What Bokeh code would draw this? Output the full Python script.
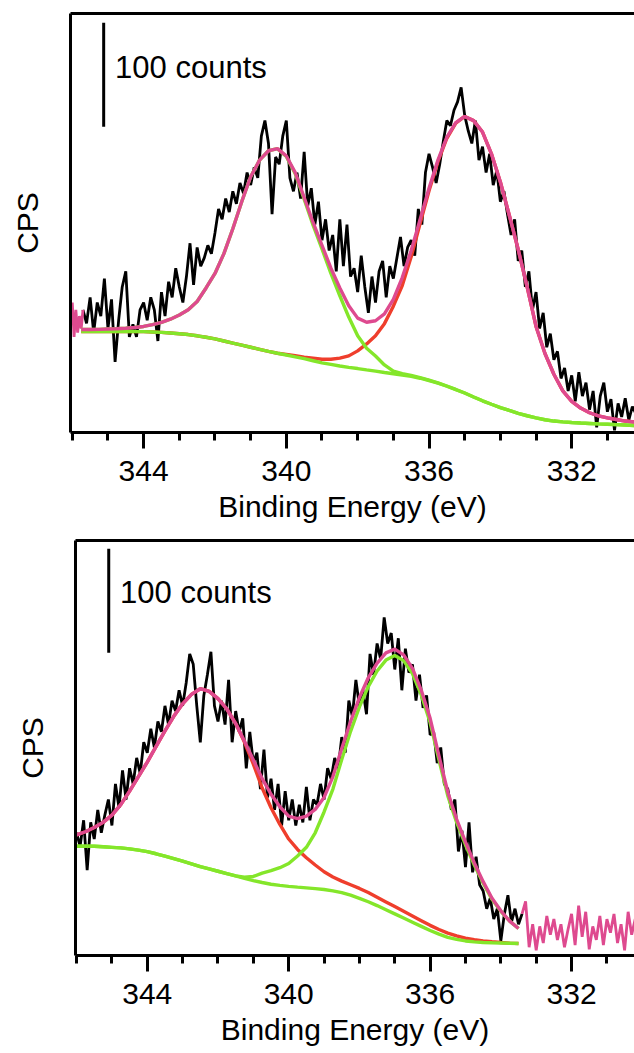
import numpy as np
from bokeh.plotting import figure
from bokeh.layouts import column, row
from bokeh.models import Range1d, LinearAxis, FixedTicker, Label, Spacer
from bokeh.embed import file_html
from bokeh.resources import INLINE

FONT = "Liberation Sans"
PINK = "#DE4A8F"
RED = "#EF3E2C"
GREEN = "#84E62A"

# ---------------- data: top panel ----------------
top_raw_start, top_raw_step = 345.7, 0.1
top_raw = [118, 105, 130, 96, 125, 112, 148, 100, 128, 68, 108, 140, 155, 92, 104, 92, 118, 125,
           108, 130, 118, 88, 135, 112, 145, 130, 158, 140, 125, 150, 182, 142, 178, 160, 168, 180,
           172, 192, 215, 205, 225, 212, 232, 220, 240, 230, 250, 238, 255, 245, 285, 300, 278, 210,
           265, 258, 285, 300, 245, 232, 250, 225, 270, 218, 235, 200, 222, 185, 205, 175, 190, 155,
           205, 160, 200, 150, 158, 135, 170, 140, 115, 150, 125, 155, 165, 130, 160, 148, 168, 188,
           160, 178, 185, 170, 215, 200, 250, 268, 255, 240, 258, 280, 300, 295, 310, 318, 332, 305,
           290, 278, 300, 262, 275, 250, 268, 238, 252, 222, 232, 210, 190, 205, 165, 175, 140, 155,
           118, 135, 100, 115, 82, 95, 70, 78, 52, 62, 40, 55, 30, 58, 35, 48, 22, 40, 5, 35, 48, 20,
           32, 2, 28, 15, 33, 12, 25, 18]
top_outside_x = [346.05, 346.0, 345.95, 345.9, 345.85, 345.8, 345.75, 345.7]
top_outside_y = [110, 125, 92, 118, 96, 112, 100, 118]

top_fit_start, top_fit_step = 345.75, 0.25
top_envelope = [99, 99, 99.2, 99.5, 99.8, 100.3, 101, 102, 103.8, 106, 109, 113, 118, 126, 139, 153,
                172, 196, 222, 246, 262, 271, 273, 266, 250, 226, 202, 180, 158, 139, 122, 110, 106,
                107.5, 114, 128, 149, 175, 205, 235, 262, 284, 298, 304, 300, 289, 268, 241, 209, 176,
                140, 102, 76, 56, 40, 30, 23.5, 19, 16, 14, 12.5, 11, 10]
top_comp_a = [99, 99, 99.2, 99.5, 99.8, 100.3, 101, 102, 103.7, 106, 109, 113, 118, 126, 139, 153,
              172, 196, 222, 246, 262, 271, 273, 265.5, 249, 224.5, 199.5, 176.5, 153, 131.5, 111, 93,
              81, 73.5, 65, 59, 56.5, 54.8, 52.8, 50.4, 47.8, 44.7, 41.4, 38, 34.2, 30.5, 27.2, 24,
              21.2, 18.5, 16.1, 14, 12.3, 11, 10.2, 9.6, 9.1, 8.7, 8.3, 8.0, 7.6, 7.2, 6.8]
top_comp_b = [97, 97, 97, 97, 97, 97, 97, 97, 96.7, 96.3, 95.7, 95, 94.2, 93, 91.6, 90, 88, 86, 84,
              82, 80, 78, 76.2, 75, 73.8, 72.5, 71.5, 70.5, 70.5, 71.5, 73.7, 78.5, 85.2, 93, 104.7,
              121.5, 141.3, 169, 201, 232.5, 260.5, 283, 297.5, 304, 300, 289, 268, 241, 209, 176, 140,
              102, 76, 56, 40, 30, 23.5, 19, 16, 14, 12.5, 11, 10]
top_background = [97, 97, 97, 97, 97, 97, 97, 97, 96.7, 96.3, 95.7, 95, 94.2, 93, 91.6, 90, 88, 86,
                  84, 82, 80, 78, 76.2, 74.5, 72.8, 71, 69, 67, 65.5, 64, 62.7, 61.5, 60.2, 59, 57.7,
                  56.5, 55.3, 54, 52.2, 50, 47.5, 44.5, 41.3, 38, 34.2, 30.5, 27.2, 24, 21.2, 18.5,
                  16.1, 14, 12.3, 11, 10.2, 9.6, 9.1, 8.7, 8.3, 8.0, 7.6, 7.2, 6.8]

# ---------------- data: bottom panel ----------------
bot_raw_start, bot_raw_step = 346.0, 0.1
bot_raw = [118, 105, 130, 82, 128, 112, 140, 118, 135, 150, 125, 165, 142, 178, 150, 180, 165, 190,
           175, 205, 195, 218, 200, 225, 215, 240, 222, 245, 235, 255, 240, 262, 290, 280, 240, 205,
           250, 270, 292, 240, 225, 245, 222, 265, 205, 235, 215, 228, 180, 215, 185, 195, 160, 198,
           152, 170, 140, 165, 125, 158, 130, 150, 125, 145, 128, 162, 130, 150, 145, 165, 150, 180,
           170, 190, 180, 210, 195, 245, 230, 265, 240, 255, 232, 290, 270, 300, 285, 325, 300, 310,
           275, 305, 255, 295, 272, 280, 245, 270, 238, 250, 212, 215, 185, 200, 165, 160, 140, 150,
           100, 120, 85, 128, 80, 95, 68, 62, 45, 55, 35, 45, 14, 40, 58, 32, 45, 30, 40]
bot_outside_start = 333.4
bot_outside_y = [40, 52, 8, 30, 5, 28, 12, 38, 20, 35, 15, 30, 8, 25, 40, 10, 48, 18, 42, 6, 28, 15,
                 38, 10, 35, 22, 40, 12, 30, 5, 42, 20, 35]

bot_fit_start, bot_fit_step = 346.0, 0.25
bot_envelope = [116, 119, 123, 128, 135, 145, 158, 172, 186, 201, 216, 230, 242, 251, 256.5, 254, 247,
                237, 223, 206, 188, 170, 155, 143, 134, 131.5, 134, 140.5, 152, 172, 199, 225, 248,
                267, 281, 291, 294.5, 289, 276, 255, 228, 192, 157, 131, 109, 89, 71, 55, 43, 33, 26]
bot_comp_a = [116, 119, 123, 128, 135, 145, 158, 172, 186, 201, 216, 230, 242, 251, 256.5, 254, 247,
              237, 223, 205, 184, 161, 142, 126, 112, 102, 94, 87, 80.5, 75.5, 71.5, 68, 64.5, 60.5,
              56, 51.5, 47, 42.5, 38, 33.5, 29, 25, 21.5, 18.8, 16.6, 15.1, 14, 13.2, 12.5, 11.9, 11.5]
bot_comp_b = [105, 105, 105, 104.5, 104, 103.5, 102.5, 101.3, 99.8, 97.8, 95.5, 93.2, 90.8, 88.2, 85.5,
              83.3, 81, 78.7, 76.5, 75.2, 76, 79.2, 81.5, 84.4, 88.5, 95.7, 104, 118, 138, 160, 188.5,
              215.5, 239, 258.5, 273.5, 284, 288.5, 283.5, 271, 250.5, 224, 188, 153.5, 128, 106.5, 87,
              69.5, 54, 42.5, 33, 26]
bot_background = [105, 105, 105, 104.5, 104, 103.5, 102.5, 101.3, 99.8, 97.8, 95.5, 93.2, 90.8, 88.2,
                  85.5, 83.3, 81, 78.7, 76.5, 74.2, 72, 70.2, 68.5, 67.4, 66.5, 65.7, 65, 64.3, 63.5,
                  62.2, 60.5, 58, 55, 51.7, 48, 44, 40, 36, 32, 28, 24, 20.5, 17.5, 15.5, 14, 13.1, 12.5,
                  12.2, 12, 11.8, 11.5]

major_ticks = [344, 340, 336, 332]
minor_ticks = [346, 345, 343, 342, 341, 339, 338, 337, 335, 334, 333, 331]


def grid(start, step, n):
    return np.round(start - step * np.arange(n), 3)


def make_panel(x_rng, y_top, frame_w, frame_h, left, top, bottom,
               raw_x, raw_y, out_x, out_y, fit_x, env, comp_a, comp_b, bg,
               color_a, color_b, bar_x, bar_y0, lab_x, lab_y, cps_bounds):
    p = figure(frame_width=frame_w, frame_height=frame_h,
               x_range=Range1d(*x_rng), y_range=Range1d(0, y_top),
               output_backend="svg", toolbar_location=None,
               min_border_left=left, min_border_right=0, min_border_top=top,
               min_border_bottom=bottom, outline_line_color=None,
               background_fill_color="white", border_fill_color="white")
    p.grid.visible = False

    xa = p.xaxis[0]
    xa.ticker = FixedTicker(ticks=major_ticks, minor_ticks=minor_ticks)
    xa.axis_line_width = 3
    xa.major_tick_line_width = 3
    xa.minor_tick_line_width = 3
    xa.major_tick_in = 0
    xa.major_tick_out = 16
    xa.minor_tick_in = 0
    xa.minor_tick_out = 8
    xa.major_label_text_font = FONT
    xa.major_label_text_font_size = "30px"
    xa.major_label_text_color = "black"
    xa.major_label_standoff = 12
    xa.axis_label = "Binding Energy (eV)"
    xa.axis_label_text_font = FONT
    xa.axis_label_text_font_size = "30px"
    xa.axis_label_text_font_style = "normal"
    xa.axis_label_text_color = "black"
    xa.axis_label_standoff = 6

    ya = p.yaxis[0]
    ya.ticker = FixedTicker(ticks=[])
    ya.axis_line_width = 3
    ya.major_tick_line_color = None
    ya.minor_tick_line_color = None
    ya.major_tick_out = 0
    ya.major_tick_in = 0
    ya.major_label_standoff = 0

    cps_axis = LinearAxis(ticker=FixedTicker(ticks=[]), axis_line_color=None,
                          major_tick_line_color=None, minor_tick_line_color=None,
                          major_tick_out=0, major_tick_in=0, major_label_standoff=0,
                          bounds=cps_bounds, axis_label="CPS", axis_label_standoff=27,
                          axis_label_text_font=FONT, axis_label_text_font_size="30px",
                          axis_label_text_font_style="normal", axis_label_text_color="black")
    p.add_layout(cps_axis, "left")

    ta = LinearAxis(ticker=FixedTicker(ticks=[]), axis_line_width=3,
                    major_tick_line_color=None, minor_tick_line_color=None,
                    major_tick_out=0, major_tick_in=0, major_label_standoff=0)
    p.add_layout(ta, "above")

    p.line(raw_x, raw_y, line_color="black", line_width=2.8)
    p.line(out_x, out_y, line_color=PINK, line_width=2.8)
    p.line(fit_x, comp_b, line_color=color_b, line_width=3.4)
    p.line(fit_x, bg, line_color=GREEN, line_width=3.4)
    p.line(fit_x, comp_a, line_color=color_a, line_width=3.4)
    p.line(fit_x, env, line_color=PINK, line_width=3.4)

    p.segment(x0=[bar_x], y0=[bar_y0], x1=[bar_x], y1=[bar_y0 + 100],
              line_color="black", line_width=3)
    p.add_layout(Label(x=lab_x, y=lab_y, text="100 counts", text_font=FONT,
                       text_font_size="31px", text_baseline="alphabetic",
                       text_align="left", text_color="black"))
    return p


top_fit_x = grid(top_fit_start, top_fit_step, len(top_envelope))
bot_fit_x = grid(bot_fit_start, bot_fit_step, len(bot_envelope))

p1 = make_panel((346.05, 330.24), 403, 564, 419, 70, 13, 100,
                grid(top_raw_start, top_raw_step, len(top_raw)), top_raw,
                top_outside_x, top_outside_y,
                top_fit_x, top_envelope, top_comp_a, top_comp_b, top_background,
                GREEN, RED, 345.12, 294, 344.8, 351, (96, 296))

p2 = make_panel((346.03, 330.22), 399, 559, 415, 70, 8, 96,
                grid(bot_raw_start, bot_raw_step, len(bot_raw)), bot_raw,
                grid(bot_outside_start, 0.1, len(bot_outside_y)), bot_outside_y,
                bot_fit_x, bot_envelope, bot_comp_b, bot_comp_a, bot_background,
                GREEN, RED, 345.09, 291, 344.77, 349, (84, 284))

layout = column(p1, row(Spacer(width=5), p2, spacing=0), spacing=0)
open("out.html", "w").write(file_html(layout, INLINE))
